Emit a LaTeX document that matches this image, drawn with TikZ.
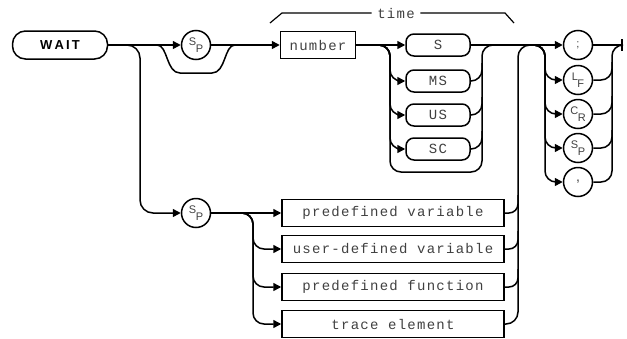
\documentclass[tikz,border=0pt]{standalone}
\usepackage{fontspec}
\setmainfont{Liberation Sans}
\newfontfamily\plotfont{Liberation Mono}[LetterSpace=9]
\usetikzlibrary{arrows.meta}
\newcommand{\twolet}[2]{\raisebox{3pt}{#1}\hspace{-0.5pt}\raisebox{-3.5pt}{#2}}

\begin{document}
\begin{tikzpicture}[x=1pt, y=-1pt, line width=1.5pt,
  >={Triangle[length=8pt,width=8pt]},
  txt/.style={font=\plotfont\fontsize{14}{14}\selectfont, text=black!75},
  box/.style={draw, txt, minimum height=27pt, inner sep=0pt},
  unit/.style={draw, txt, rounded corners=8pt, minimum width=64pt, minimum height=22pt, inner sep=0pt},
  circ/.style={draw, circle, minimum size=29pt, inner sep=0pt, font=\fontsize{11}{11}\selectfont, text=black!75}]
  \useasboundingbox (0,0) rectangle (627,338);

  % keyword and first branch
  \node[draw, rounded corners=13pt, minimum width=95pt, minimum height=28pt,
        font=\bfseries\fontsize{13}{13}\selectfont, inner sep=0pt] (wait) at (60,45) {W\,A\,I\,T};
  \node[circ] (sp1) at (196,45) {\twolet{S}{P}};
  \node[box, minimum width=75pt] (num) at (318,45) {number};
  \node[circ] (sp2) at (196,213) {\twolet{S}{P}};

  % units
  \foreach \n/\t/\y in {s/S/45, ms/MS/81, us/US/115, sc/SC/149}
    \node[unit] (\n) at (438,\y) {\t};

  % variables and functions
  \foreach \n/\t/\y in {pv/predefined variable/213, udv/user-defined variable/249,
                        pf/predefined function/287, te/trace element/324}
    \node[box, minimum width=222pt] (\n) at (393,\y) {\t};

  % terminators
  \node[circ] (semi) at (578,45) {;};
  \node[circ] (lf) at (578,80) {\twolet{L}{F}};
  \node[circ] (cr) at (578,114) {\twolet{C}{R}};
  \node[circ] (spt) at (578,148) {\twolet{S}{P}};
  \node[circ, font=\fontsize{14}{14}\selectfont] (comma) at (578,182) {,};
  \coordinate (stop) at (622,45);

  % time bracket
  \node[txt, inner sep=5pt] (time) at (396,13) {time};
  \draw[line width=1.2pt] (270,23) -- (282,13) -- (time.west);
  \draw[line width=1.2pt] (time.east) -- (505,13) -- (514,23);

  % upper path
  \draw[->] (wait) -- (sp1);
  \coordinate (byA) at (157,45);
  \coordinate (byB) at (235,45);
  \draw (byA) .. controls (168,45) and (166,73) .. (180,73) -- (212,73)
        .. controls (226,73) and (224,45) .. (byB);
  \draw[->] (sp1) -- (num);
  \draw[->] (num) -- (s);
  \foreach \n/\y in {ms/81, us/115, sc/149}
    \draw[->, rounded corners=11pt] (num.east) -- (390,45) -- (390,\y) -- (\n.west);
  \foreach \n/\y in {ms/81, us/115, sc/149}
    \draw[rounded corners=11pt] (\n.east) -- (482,\y) -- (482,\y-18);
  \draw[rounded corners=11pt] (num.east) -- (390,45) -- (390,172) -- (482,172)
        -- (482,45) -- (500,45);

  % lower path
  \draw[->, rounded corners=13pt] (wait.east) -- (140,45) -- (140,213) -- (sp2.west);
  \draw[->] (sp2) -- (pv);
  \foreach \n/\y in {udv/249, pf/287, te/324}
    \draw[->, rounded corners=11pt] (sp2.east) -- (253,213) -- (253,\y) -- (\n.west);
  \foreach \n/\y in {pv/213, udv/249, pf/287}
    \draw[rounded corners=9pt] (\n.east) -- (518,\y) -- (518,\y-18);
  \draw[rounded corners=12pt] (te.east) -- (518,324) -- (518,45) -- (540,45);

  % terminators
  \draw[->] (s) -- (semi);
  \foreach \n/\y in {lf/80, cr/114, spt/148, comma/182}
    \draw[->, rounded corners=11pt] (s.east) -- (545,45) -- (545,\y) -- (\n.west);
  \foreach \n/\y in {lf/80, cr/114, spt/148}
    \draw[rounded corners=11pt] (\n.east) -- (612,\y) -- (612,\y-18);
  \draw[rounded corners=11pt] (comma.east) -- (612,182) -- (612,45) -- (stop);
  \draw (semi) -- (stop);
  \draw ([yshift=6pt]stop) -- ([yshift=-6pt]stop);
\end{tikzpicture}
\end{document}
